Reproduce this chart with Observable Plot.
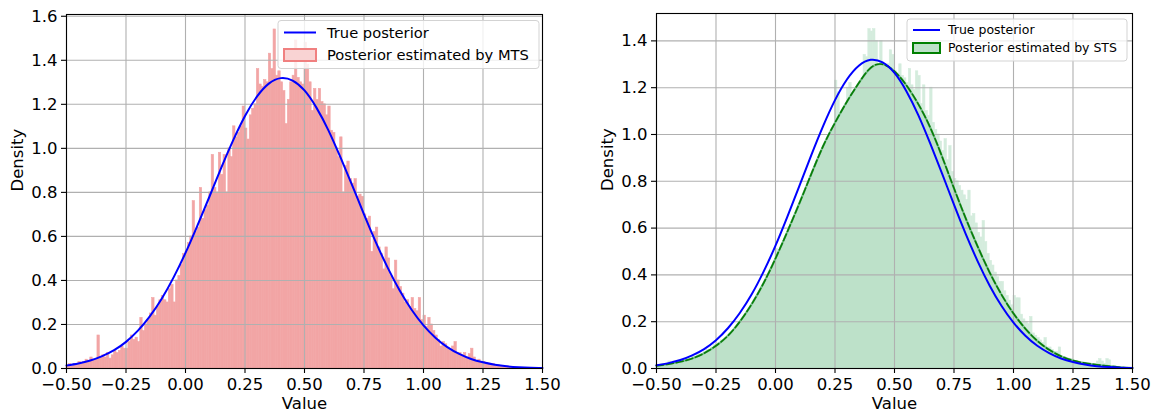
<!DOCTYPE html>
<html>
<head>
<meta charset="utf-8">
<script src="https://cdn.jsdelivr.net/npm/d3@7"></script>
<script src="https://cdn.jsdelivr.net/npm/@observablehq/plot@0.6"></script>
<style>
  html, body { margin: 0; padding: 0; background: #fff; }
  #wrap { position: relative; width: 1156px; height: 416px; overflow: hidden; }
  #left, #right { position: absolute; top: 0; }
  #left { left: 0; }
  #right { left: 578px; }
</style>
</head>
<body>
<div id="wrap"><div id="left"></div><div id="right"></div></div>
<script>
// ---------- data ----------
const binStart = -0.5;
const binWidth = 0.01;

// histogram densities of samples (MTS), bins of width 0.01 starting at -0.50
const mtsHist = [
  0.01,0.02,0.01,0.02,0.02,0.03,0.02,0.03,0.04,0.03,
  0.05,0.04,0.04,0.15,0.05,0.06,0.05,0.07,0.045,0.06,
  0.08,0.07,0.08,0.10,0.09,0.09,0.12,0.15,0.13,0.14,
  0.12,0.23,0.17,0.20,0.22,0.25,0.32,0.24,0.28,0.31,
  0.33,0.31,0.30,0.36,0.38,0.30,0.40,0.42,0.47,0.52,
  0.53,0.57,0.60,0.76,0.62,0.64,0.82,0.68,0.72,0.74,
  0.80,0.97,0.82,0.80,0.98,0.88,0.97,0.80,1.00,0.96,
  1.10,1.05,1.07,1.10,1.19,1.09,1.04,1.15,1.18,1.20,
  1.36,1.29,1.28,1.31,1.30,1.43,1.36,1.54,1.33,1.35,
  1.30,1.26,1.11,1.22,1.30,1.33,1.49,1.32,1.30,1.29,
  1.48,1.38,1.30,1.17,1.27,1.22,1.27,1.21,1.20,1.15,
  1.19,1.08,1.07,1.00,0.96,1.05,0.80,0.92,0.94,0.86,
  0.84,0.86,0.78,0.79,0.78,0.70,0.68,0.69,0.53,0.62,
  0.64,0.55,0.52,0.45,0.55,0.50,0.42,0.36,0.49,0.40,
  0.37,0.34,0.30,0.31,0.28,0.32,0.27,0.26,0.32,0.22,
  0.24,0.19,0.23,0.20,0.17,0.15,0.13,0.10,0.12,0.11,
  0.09,0.08,0.10,0.12,0.07,0.07,0.06,0.07,0.05,0.065,
  0.09,0.05,0.03,0.04,0.03,0.03,0.025,0.02,0.015,0.02,
  0.01,0.015,0.01,0.008,0.005,0.01,0.005,0.003,0.002,0.002
];

// histogram densities of samples (STS), same bins
const stsHist = [
  0.01,0.01,0.02,0.02,0.02,0.03,0.02,0.03,0.02,0.03,
  0.03,0.03,0.04,0.04,0.04,0.05,0.05,0.06,0.06,0.06,
  0.07,0.08,0.08,0.09,0.10,0.10,0.11,0.12,0.12,0.13,
  0.14,0.14,0.16,0.17,0.18,0.20,0.21,0.22,0.24,0.25,
  0.27,0.28,0.30,0.31,0.33,0.35,0.37,0.39,0.41,0.45,
  0.51,0.48,0.50,0.52,0.55,0.57,0.59,0.62,0.64,0.67,
  0.69,0.71,0.73,0.76,0.78,0.80,0.83,0.85,0.88,0.90,
  0.92,0.95,0.97,0.99,1.01,1.23,1.18,1.06,1.08,1.10,
  1.20,1.22,1.14,1.16,1.18,1.20,1.21,1.34,1.33,1.45,
  1.44,1.45,1.40,1.28,1.40,1.30,1.29,1.30,1.36,1.34,
  1.27,1.26,1.30,1.25,1.24,1.22,1.28,1.21,1.19,1.27,
  1.25,1.13,1.21,1.10,1.08,1.20,1.05,1.02,1.00,0.97,
  0.93,0.98,0.89,0.95,0.84,0.81,0.80,0.78,0.76,0.74,
  0.72,0.76,0.65,0.66,0.62,0.58,0.56,0.63,0.54,0.49,
  0.46,0.44,0.41,0.39,0.37,0.37,0.33,0.31,0.29,0.27,
  0.31,0.30,0.30,0.23,0.21,0.20,0.19,0.22,0.15,0.14,
  0.13,0.12,0.11,0.13,0.09,0.09,0.08,0.07,0.07,0.09,
  0.05,0.05,0.04,0.04,0.04,0.03,0.03,0.03,0.025,0.02,
  0.02,0.02,0.02,0.02,0.02,0.03,0.04,0.03,0.02,0.04,
  0.035,0.01,0.01,0.005,0.005
];

// curve sample positions (step 0.05 from -0.50 to 1.50)
const curveX = [-0.50,-0.45,-0.40,-0.35,-0.30,-0.25,-0.20,-0.15,-0.10,-0.05,
  0.00,0.05,0.10,0.15,0.20,0.25,0.30,0.35,0.40,0.45,
  0.50,0.55,0.60,0.65,0.70,0.75,0.80,0.85,0.90,0.95,
  1.00,1.05,1.10,1.15,1.20,1.25,1.30,1.35,1.40,1.45,1.50];

// true posterior density read at curveX
const truePosterior = [0.014,0.023,0.036,0.056,0.083,0.121,0.172,0.237,0.317,0.414,
  0.525,0.649,0.779,0.911,1.036,1.147,1.235,1.294,1.319,1.308,
  1.263,1.185,1.083,0.962,0.833,0.700,0.573,0.457,0.354,0.267,
  0.196,0.140,0.097,0.066,0.043,0.028,0.017,0.010,0.006,0.0035,0.002];

// STS kernel density estimate read at curveX
const stsKde = [0.012,0.019,0.029,0.043,0.065,0.097,0.140,0.200,0.275,0.365,
  0.470,0.585,0.705,0.830,0.950,1.050,1.140,1.220,1.285,1.300,
  1.270,1.210,1.130,1.030,0.905,0.770,0.640,0.520,0.410,0.315,
  0.235,0.170,0.118,0.080,0.052,0.034,0.023,0.016,0.010,0.005,0.002];

const xTicks = [-0.5,-0.25,0,0.25,0.5,0.75,1,1.25,1.5];
const yTicksLeft = [0,0.2,0.4,0.6,0.8,1.0,1.2,1.4,1.6];
const yTicksRight = [0,0.2,0.4,0.6,0.8,1.0,1.2,1.4];

// ---------- helpers ----------
const toBins = arr => arr.map((v, i) => ({x1: binStart + i * binWidth, x2: binStart + (i + 1) * binWidth, y: v}));
const toCurve = arr => arr.map((v, i) => ({x: curveX[i], y: v}));
const FONT = "DejaVu Sans";

function axesMarks(yTicks) {
  return [
    Plot.ruleX(xTicks, {stroke: "#b0b0b0", strokeWidth: 1.1}),
    Plot.ruleY(yTicks, {stroke: "#b0b0b0", strokeWidth: 1.1}),
  ];
}
function frameAxes(yTicks) {
  return [
    Plot.frame({stroke: "black", strokeWidth: 1.1}),
    Plot.axisX(xTicks, {tickFormat: d3.format(".2f"), tickSize: 5, tickPadding: 5, strokeWidth: 1.1, label: null, fontSize: 16.5}),
    Plot.axisY(yTicks, {tickFormat: d3.format(".1f"), tickSize: 5, tickPadding: 4, strokeWidth: 1.1, label: null, fontSize: 16.5}),
    Plot.text(["Value"], {frameAnchor: "bottom", dy: 40, fontSize: 16.5, fill: "black"}),
    Plot.text(["Density"], {frameAnchor: "left", rotate: -90, dx: -48.5, fontSize: 16.5, fill: "black"})
  ];
}

// ---------- left panel ----------
const left = Plot.plot({
  width: 578, height: 416,
  marginLeft: 66, marginRight: 36, marginTop: 14, marginBottom: 48,
  x: {domain: [-0.5, 1.5]},
  y: {domain: [0, 1.608]},
  style: {fontFamily: FONT, fontSize: "16.5px", color: "black", background: "white", overflow: "visible"},
  marks: [
    Plot.rectY(toBins(mtsHist), {x1: "x1", x2: "x2", y: "y", fill: "#f2a5a5", stroke: "#f2a5a5", strokeWidth: 0.6, inset: 0}),
    ...axesMarks(yTicksLeft),
    Plot.line(toCurve(truePosterior), {x: "x", y: "y", stroke: "#0000ff", strokeWidth: 2, curve: "natural"}),
    ...frameAxes(yTicksLeft)
  ]
});
document.getElementById("left").appendChild(left);

// ---------- right panel ----------
const right = Plot.plot({
  width: 578, height: 416,
  marginLeft: 78, marginRight: 24, marginTop: 13, marginBottom: 48,
  x: {domain: [-0.5, 1.5]},
  y: {domain: [0, 1.517]},
  style: {fontFamily: FONT, fontSize: "16.5px", color: "black", background: "white", overflow: "visible"},
  marks: [
    Plot.rectY(toBins(stsHist), {x1: "x1", x2: "x2", y: "y", fill: "#d4ecdd", stroke: "#d4ecdd", strokeWidth: 0.6, inset: 0}),
    Plot.areaY(toCurve(stsKde), {x: "x", y: "y", fill: "#bde1c9", curve: "natural"}),
    ...axesMarks(yTicksRight),
    Plot.line(toCurve(stsKde), {x: "x", y: "y", stroke: "#7cbf90", strokeWidth: 2.2, curve: "natural"}),
    Plot.line(toCurve(stsKde), {x: "x", y: "y", stroke: "#087d08", strokeWidth: 1.7, strokeDasharray: "7,3", curve: "natural"}),
    Plot.line(toCurve(truePosterior), {x: "x", y: "y", stroke: "#0000ff", strokeWidth: 2, curve: "natural"}),
    ...frameAxes(yTicksRight)
  ]
});
document.getElementById("right").appendChild(right);

// ---------- legends ----------
function legend(svg, o) {
  const g = d3.select(svg).append("g").attr("font-family", FONT).attr("font-size", o.fs + "px")
    .attr("text-anchor", "start");
  g.append("rect").attr("x", o.x).attr("y", o.y).attr("width", o.w).attr("height", o.h)
    .attr("rx", 3).attr("fill", "white").attr("fill-opacity", 0.8).attr("stroke", "#d3d3d3").attr("stroke-width", 1);
  g.append("line").attr("x1", o.x + 6).attr("x2", o.x + 6 + o.sw).attr("y1", o.l1).attr("y2", o.l1)
    .attr("stroke", "#0000ff").attr("stroke-width", 2);
  g.append("rect").attr("x", o.x + 6).attr("y", o.l2 - o.ph / 2).attr("width", o.sw).attr("height", o.ph)
    .attr("fill", o.pf).attr("stroke", o.ps).attr("stroke-width", 2);
  g.append("text").attr("x", o.tx).attr("y", o.l1).attr("dy", "0.35em").attr("text-anchor", "start").attr("fill", "black").text("True posterior");
  g.append("text").attr("x", o.tx).attr("y", o.l2).attr("dy", "0.35em").attr("text-anchor", "start").attr("fill", "black").text(o.label);
}
legend(left, {x: 278, y: 20.5, w: 261, h: 48, sw: 32, ph: 12, l1: 32.5, l2: 55, tx: 327, fs: 14.7,
  pf: "#f9d3d3", ps: "#f08080", label: "Posterior estimated by MTS"});
legend(right, {x: 329, y: 19, w: 220, h: 42, sw: 27, ph: 10, l1: 30, l2: 48, tx: 370, fs: 12.5,
  pf: "#bde1c9", ps: "#008000", label: "Posterior estimated by STS"});
</script>
</body>
</html>
